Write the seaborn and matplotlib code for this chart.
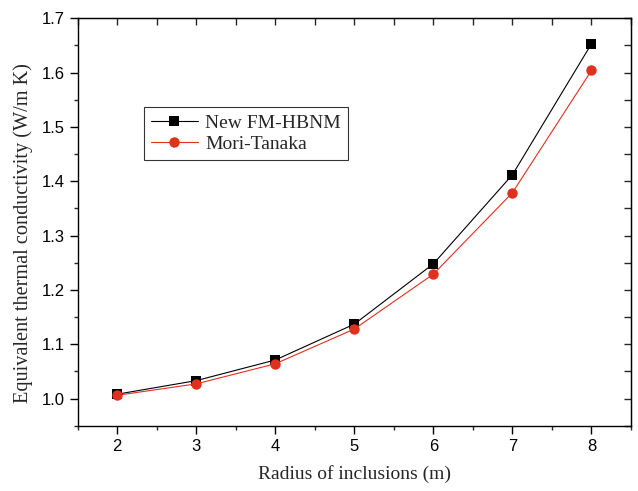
import numpy as np
import pandas as pd
import matplotlib
matplotlib.use("Agg")
import matplotlib.pyplot as plt
import seaborn as sns
from matplotlib.ticker import MultipleLocator

radius = [2, 3, 4, 5, 6, 7, 8]
new_fm_hbnm = [1.008, 1.033, 1.071, 1.137, 1.248, 1.412, 1.653]
mori_tanaka = [1.006, 1.027, 1.064, 1.128, 1.229, 1.379, 1.604]
series_names = ["New FM-HBNM", "Mori-Tanaka"]

df = pd.DataFrame({
    "radius": radius * 2,
    "k": new_fm_hbnm + mori_tanaka,
    "series": [series_names[0]] * len(radius) + [series_names[1]] * len(radius),
})

sns.set_style("ticks")
plt.rcParams["font.family"] = ["Liberation Sans", "DejaVu Sans"]

fig = plt.figure(figsize=(6.38, 4.91), dpi=100)
ax = fig.add_axes([0.1218, 0.133, 0.989 - 0.1218, 0.9627 - 0.133])

sns.lineplot(data=df, x="radius", y="k", hue="series", style="series",
             palette={series_names[0]: "black", series_names[1]: "#e0301e"},
             markers={series_names[0]: "s", series_names[1]: "o"},
             dashes=False, linewidth=0.8, markersize=7.5, markeredgewidth=0,
             ax=ax)

ax.set_xlim(1.5, 8.5)
ax.set_ylim(0.95, 1.7)
ax.xaxis.set_major_locator(MultipleLocator(1))
ax.xaxis.set_minor_locator(MultipleLocator(0.5))
ax.yaxis.set_major_locator(MultipleLocator(0.1))
ax.yaxis.set_minor_locator(MultipleLocator(0.05))
ax.yaxis.set_major_formatter(matplotlib.ticker.FormatStrFormatter("%.1f"))

for s in ax.spines.values():
    s.set_linewidth(1.0)
    s.set_color("black")

ax.tick_params(which="major", direction="out", length=5.5, width=1.0,
               labelsize=12, colors="black", pad=4)
ax.tick_params(which="minor", direction="out", length=3, width=1.0)

# inward ticks on top and right
sx = ax.secondary_xaxis("top")
sx.xaxis.set_major_locator(MultipleLocator(0.5))
sx.tick_params(direction="in", length=5, width=1.0, labeltop=False)
sy = ax.secondary_yaxis("right")
sy.yaxis.set_major_locator(MultipleLocator(0.05))
sy.tick_params(direction="in", length=5, width=1.0, labelright=False)

serif = ["Liberation Serif", "DejaVu Serif"]
ax.set_xlabel("Radius of inclusions (m)", fontsize=14, family=serif, labelpad=8)
ax.set_ylabel("Equivalent thermal conductivity (W/m K)", fontsize=14.6,
              family=serif, labelpad=6)
ax.yaxis.label.set_y(0.472)

leg = ax.legend(loc="upper left", bbox_to_anchor=(0.12, 0.782),
                borderaxespad=0, frameon=True, fancybox=False,
                prop={"family": serif, "size": 14}, handlelength=2.4,
                handletextpad=0.4, borderpad=0.35, labelspacing=0.2)
leg.get_frame().set_edgecolor("black")
leg.get_frame().set_linewidth(0.8)

fig.savefig("out.png", dpi=100)
